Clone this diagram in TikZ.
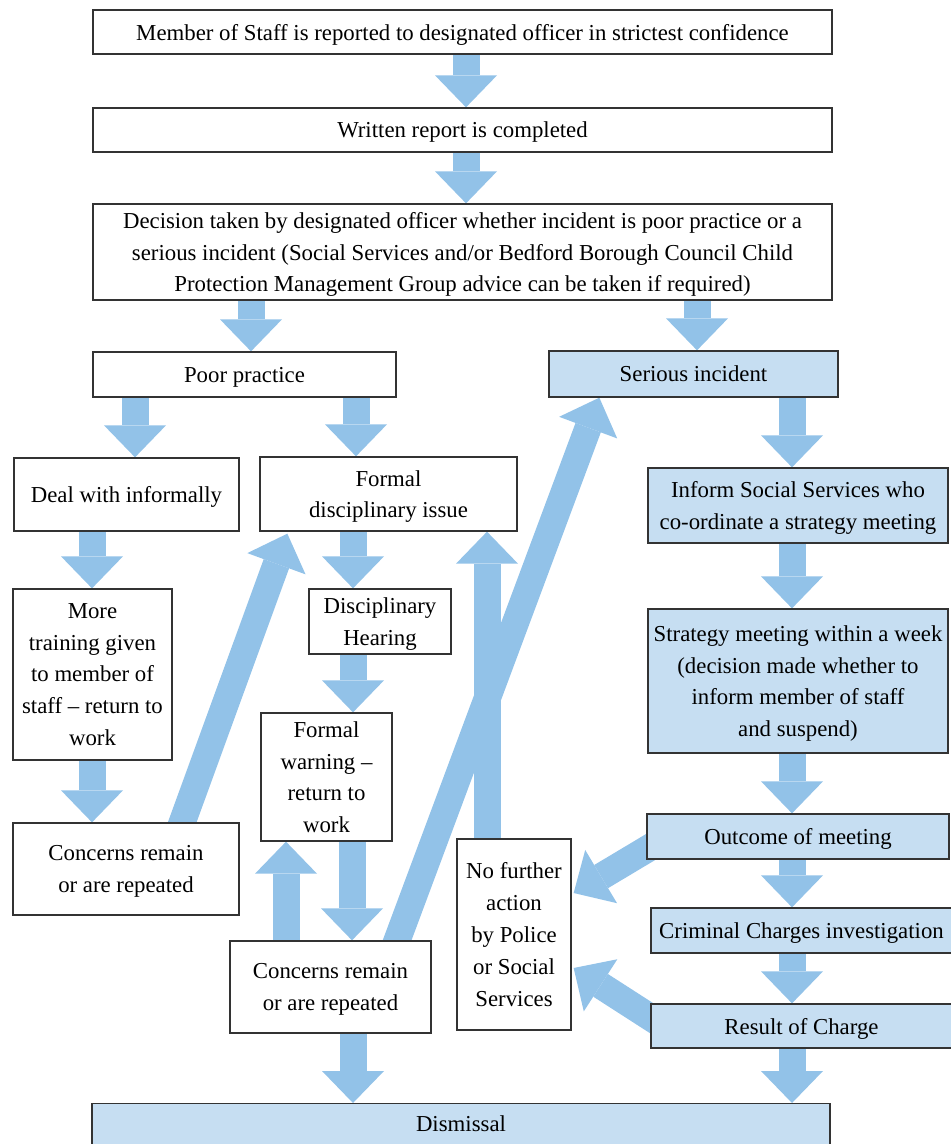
\documentclass[tikz,border=0pt]{standalone}
\usepackage{fontspec}
\setmainfont{Liberation Serif}
\usetikzlibrary{arrows.meta,calc}
\definecolor{arrowblue}{HTML}{92C2E8}
\definecolor{boxblue}{HTML}{C6DEF2}
\definecolor{boxline}{HTML}{333333}
\pgfdeclarelayer{bg}
\pgfsetlayers{bg,main}
\tikzset{
  wbox/.style={draw=boxline,line width=1.3pt,fill=white,align=center,inner sep=0pt,
    text depth=0pt,font=\fontsize{22.8}{31.8}\selectfont},
  bbox/.style={wbox,fill=boxblue},
  sz/.style 2 args={minimum width=#1pt,minimum height=#2pt},
  fat/.style={line width=27pt,draw=arrowblue,
    -{Triangle[width=62pt 0 0,length=32pt 0 0,line width=0pt 0 0]}}
}
\begin{document}
\begin{tikzpicture}[x=1pt,y=-1pt]
\useasboundingbox (0,0) rectangle (951,1144);
% boxes
\node[wbox,sz={739}{44}] (b1) at (462.5,32) {Member of Staff is reported to designated officer in strictest confidence};
\node[wbox,sz={739}{44}] (b2) at (462.5,130) {Written report is completed};
\node[wbox,sz={739}{96}] (b3) at (462.5,252) {Decision taken by designated officer whether incident is poor practice or a\\serious incident (Social Services and/or Bedford Borough Council Child\\Protection Management Group advice can be taken if required)};
\node[wbox,sz={303}{45}] (pp) at (244.5,374.5) {Poor practice};
\node[bbox,sz={289}{46}] (si) at (693.5,374) {Serious incident};
\node[wbox,sz={225}{73}] (dwi) at (126.5,494.5) {Deal with informally};
\node[wbox,sz={257}{74}] (fdi) at (388.5,494) {Formal\\disciplinary issue};
\node[bbox,sz={300}{75}] (iss) at (798,505.5) {Inform Social Services who\\co-ordinate a strategy meeting};
\node[wbox,sz={159}{171}] (mt) at (92.5,674.5) {More\\training given\\to member of\\staff -- return to\\work};
\node[wbox,sz={142}{65}] (dh) at (380,621.5) {Disciplinary\\Hearing};
\node[wbox,sz={131}{128}] (fw) at (326.5,777) {Formal\\warning --\\return to\\work};
\node[bbox,sz={300}{144}] (sm) at (798,681) {Strategy meeting within a week\\(decision made whether to\\inform member of staff\\and suspend)};
\node[wbox,sz={226}{92}] (cl) at (126,869) {Concerns remain\\or are repeated};
\node[bbox,sz={302}{45}] (om) at (798,836.5) {Outcome of meeting};
\node[wbox,sz={201}{92}] (cm) at (330.5,987) {Concerns remain\\or are repeated};
\node[wbox,sz={114}{191}] (nfa) at (514,934.5) {No further\\action\\by Police\\or Social\\Services};
\node[bbox,sz={301}{45}] (cc) at (801.5,930.5) {Criminal Charges investigation};
\node[bbox,sz={301}{44}] (rc) at (801.5,1026) {Result of Charge};
\node[bbox,minimum width=738pt,text height=28pt,text depth=30pt,anchor=north] (dis) at (461,1103) {Dismissal};
% arrows
\begin{pgfonlayer}{bg}
\draw[fat] (466,0 |- b1.south) -- (466,0 |- b2.north);
\draw[fat] (466,0 |- b2.south) -- (466,0 |- b3.north);
\draw[fat] (251,0 |- b3.south) -- (251,0 |- pp.north);
\draw[fat] (697,0 |- b3.south) -- (697,0 |- si.north);
\draw[fat] (135,0 |- pp.south) -- (135,0 |- dwi.north);
\draw[fat] (356,0 |- pp.south) -- (356,0 |- fdi.north);
\draw[fat] (792,0 |- si.south) -- (792,0 |- iss.north);
\draw[fat] (92,0 |- dwi.south) -- (92,0 |- mt.north);
\draw[fat] (353,0 |- fdi.south) -- (353,0 |- dh.north);
\draw[fat] (792,0 |- iss.south) -- (792,0 |- sm.north);
\draw[fat] (92,0 |- mt.south) -- (92,0 |- cl.north);
\draw[fat] (353,0 |- dh.south) -- (353,0 |- fw.north);
\draw[fat] (792,0 |- sm.south) -- (792,0 |- om.north);
\draw[fat] (792,0 |- om.south) -- (792,0 |- cc.north);
\draw[fat] (792,0 |- cc.south) -- (792,0 |- rc.north);
\draw[fat] (792,0 |- rc.south) -- (792,0 |- dis.north);
\draw[fat] (353,0 |- cm.south) -- (353,0 |- dis.north);
\draw[fat] (352,0 |- fw.south) -- (352,0 |- cm.north);
\draw[fat] (286,0 |- cm.north) -- (286,0 |- fw.south);
\draw[fat] ($(cl.north)+(50,17)$) -- ($(fdi.south west)+(28,2)$);
\draw[fat] ($(cm.north)+(59.5,19)$) -- ($(si.south west)+(51,0)$);
\draw[fat] (487,0 |- nfa.north) -- (487,0 |- fdi.south);
\draw[fat] ($(om.west)+(21,0.5)$) -- ($(nfa.east)+(2,-41.5)$);
\draw[fat] ($(rc.west)+(15,1)$) -- ($(nfa.east)+(2,33.5)$);
\end{pgfonlayer}
\end{tikzpicture}
\end{document}
